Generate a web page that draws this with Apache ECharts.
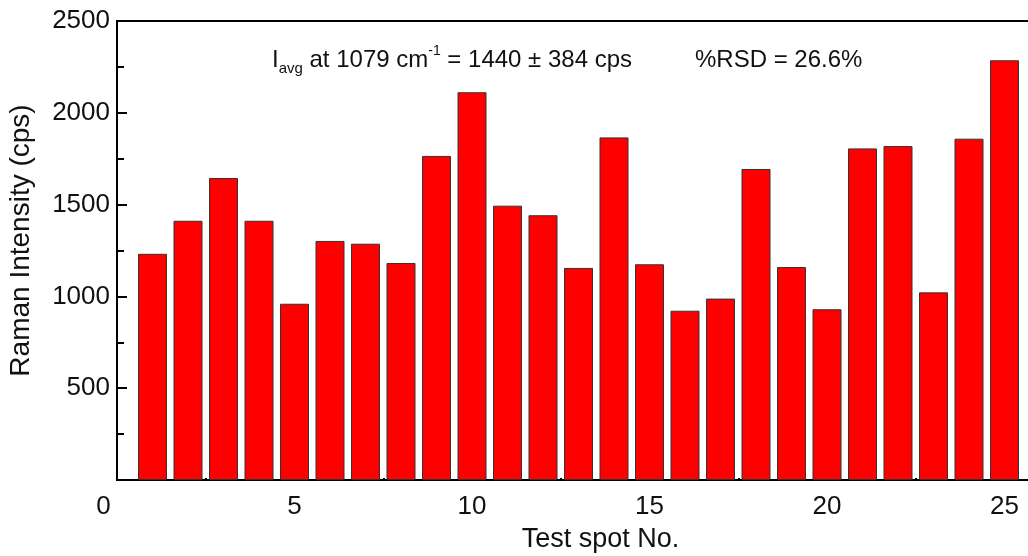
<!DOCTYPE html>
<html>
<head>
<meta charset="utf-8">
<script src="https://cdn.jsdelivr.net/npm/echarts@6/dist/echarts.min.js"></script>
<style>html,body{margin:0;padding:0;background:#fff}#c{width:1028px;height:556px}</style>
</head>
<body>
<div id="c"></div>
<script>
const spots = [1,2,3,4,5,6,7,8,9,10,11,12,13,14,15,16,17,18,19,20,21,22,23,24,25];
const intensity = [1232,1412,1645,1412,960,1302,1287,1182,1765,2112,1494,1442,1155,1866,1175,922,988,1694,1160,930,1806,1819,1022,1859,2286];
const xName = 'Test spot No.';
const yName = 'Raman Intensity (cps)';
const note1 = '{m|I}{s|avg}{m| at 1079 cm}{p|-1}{m| = 1440 ± 384 cps}';
const note2 = '%RSD = 26.6%';

const font = 'Liberation Sans, Arial, sans-serif';
const chart = echarts.init(document.getElementById('c'), null, {renderer: 'canvas'});
chart.setOption({
  animation: false,
  backgroundColor: '#fff',
  grid: {left: 117, top: 21, bottom: 76, right: -12, containLabel: false, outerBoundsMode: 'none',
         show: true, borderColor: '#000', borderWidth: 2, backgroundColor: 'transparent'},
  xAxis: {
    type: 'value', min: 0, max: 26, interval: 5,
    name: xName, nameLocation: 'middle', nameGap: 46,
    nameTextStyle: {fontFamily: font, fontSize: 27, color: '#111', padding: [0, 0, 0, 44]},
    axisLine: {show: true, onZero: false, lineStyle: {color: '#000', width: 2}},
    axisTick: {show: true, inside: true, length: 8, lineStyle: {color: '#000', width: 2}},
    minorTick: {show: true, splitNumber: 2, length: 2, lineStyle: {color: '#000', width: 2}},
    splitLine: {show: false},
    axisLabel: {
      fontFamily: font, fontSize: 26, color: '#111', margin: 14, showMaxLabel: false,
      formatter: function (v) { return v === 0 ? '{z|0}' : String(v); },
      rich: {z: {fontFamily: font, fontSize: 26, color: '#111', padding: [0, 27, 0, 0]}}
    }
  },
  yAxis: {
    type: 'value', min: 0, max: 2500, interval: 500,
    name: yName, nameLocation: 'middle', nameGap: 82, nameRotate: 90,
    nameTextStyle: {fontFamily: font, fontSize: 28, color: '#111', padding: [0, 0, 0, 20]},
    axisLine: {show: true, lineStyle: {color: '#000', width: 2}},
    axisTick: {show: true, inside: true, length: 10, lineStyle: {color: '#000', width: 2}},
    minorTick: {show: true, splitNumber: 2, length: 7, lineStyle: {color: '#000', width: 2}},
    splitLine: {show: false},
    axisLabel: {fontFamily: font, fontSize: 26, color: '#111', margin: 7, showMinLabel: false,
      formatter: function (v) { return String(v); }}
  },
  series: [{
    type: 'bar',
    data: spots.map((s, i) => [s, intensity[i]]),
    barWidth: 29,
    itemStyle: {color: '#ff0000', borderColor: '#333', borderWidth: 1}
  }],
  graphic: [
    {type: 'text', left: 272, top: 44, style: {
      text: note1, fill: '#111', font: '24px ' + font,
      rich: {
        m: {fontFamily: font, fontSize: 24, lineHeight: 32, fill: '#111', verticalAlign: 'middle'},
        s: {fontFamily: font, fontSize: 15, lineHeight: 16, fill: '#111', verticalAlign: 'bottom'},
        p: {fontFamily: font, fontSize: 14, lineHeight: 16, fill: '#111', verticalAlign: 'top'}
      }
    }},
    {type: 'text', left: 695, top: 48, style: {text: note2, fill: '#111', font: '24px ' + font}}
  ]
});
</script>
</body>
</html>
